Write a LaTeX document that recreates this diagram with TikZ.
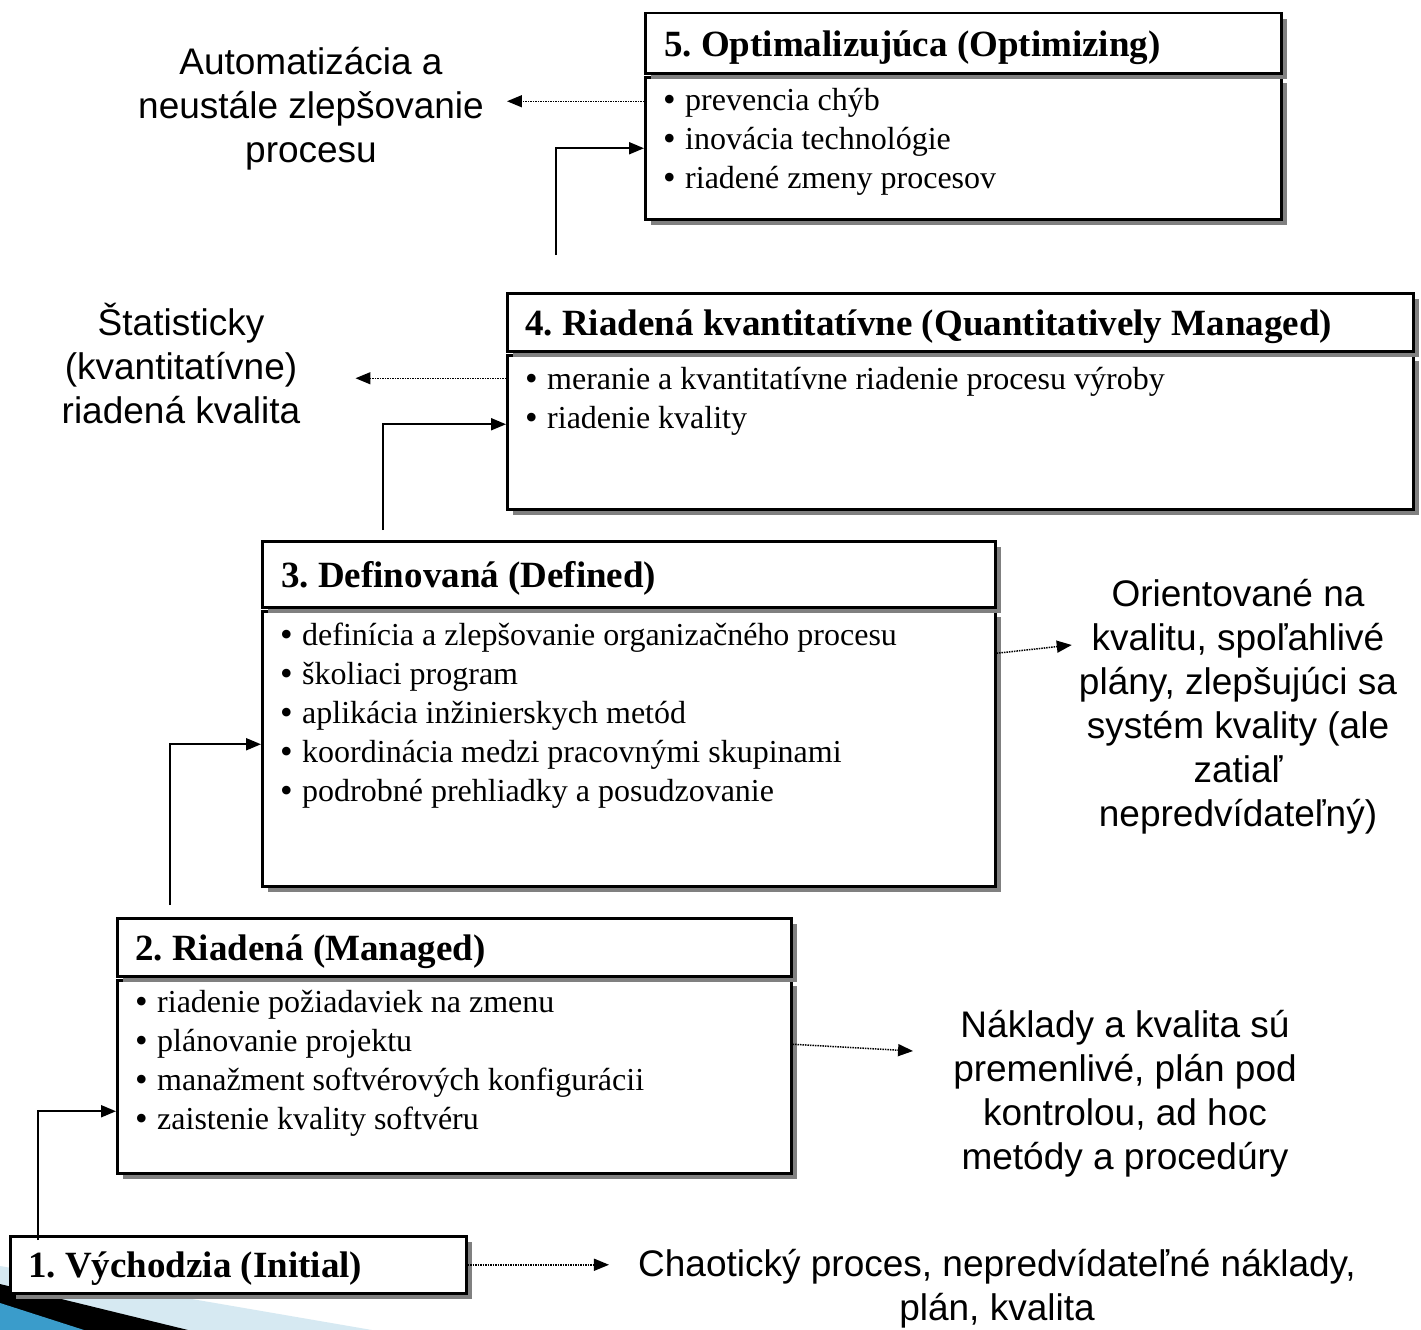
\documentclass[tikz,border=0pt]{standalone}
\usepackage{fontspec}
\setmainfont{Liberation Serif}
\newfontfamily\sansf{Liberation Sans}
\usetikzlibrary{arrows.meta,shadows,calc}
\definecolor{shadowgray}{HTML}{808080}
\definecolor{decolight}{HTML}{D6E9F2}
\definecolor{decoblue}{HTML}{3A9CCB}
\newcommand\bul{\makebox[22pt][l]{\raisebox{-1.3pt}{\fontsize{36}{0}\selectfont•}}}
\begin{document}
\frenchspacing
\begin{tikzpicture}[x=1pt,y=-1pt,
 box/.style={draw=black, line width=2.5pt, fill=white, rectangle, inner sep=0pt, anchor=north west,
   general shadow={fill=shadowgray, shadow xshift=6pt, shadow yshift=-6pt}},
 ttl/.style={anchor=west, inner sep=0pt, font=\fontsize{37}{44}\selectfont\bfseries},
 body/.style={anchor=north west, inner sep=0pt, align=left, font=\fontsize{32}{39}\selectfont},
 side/.style={align=center, inner sep=0pt, font=\sansf\fontsize{37}{44}\selectfont},
 conn/.style={line width=2pt, -{Triangle[length=15pt,width=12pt]}},
 dotconn/.style={line width=1.5pt, densely dotted, -{Triangle[length=15pt,width=12pt]}}
]
\fill[white] (0,0) rectangle (1421,1330);
\useasboundingbox (0,0) rectangle (1421,1330);

% bottom-left template decoration
\fill[decolight] (0,1266) -- (372,1330) -- (0,1330) -- cycle;
\fill[black] (0,1284) -- (188,1330) -- (0,1330) -- cycle;
\fill[decoblue] (0,1303) -- (84,1330) -- (0,1330) -- cycle;

% side texts
\node[side] (A5) at (311,109) {Automatizácia a\\neustále zlepšovanie\\procesu};
\node[side] (S4) at (181,364) {Štatisticky\\(kvantitatívne)\\riadená kvalita};
\node[side] (O3) at (1238,707) {Orientované na\\kvalitu, spoľahlivé\\plány, zlepšujúci sa\\systém kvality (ale\\zatiaľ\\nepredvídateľný)};
\node[side] (N2) at (1125,1094) {Náklady a kvalita sú\\premenlivé, plán pod\\kontrolou, ad hoc\\metódy a procedúry};
\node[side] (C1) at (997,1289) {Chaotický proces, nepredvídateľné náklady,\\plán, kvalita};

% level 5
\node[box, minimum width=636pt, minimum height=142pt] (B5b) at (644,76) {};
\node[box, minimum width=636pt, minimum height=60pt] (B5t) at (644,12) {};
\node[ttl] (T5) at ([xshift=20pt,yshift=-4pt]B5t.west) {5. Optimalizujúca (Optimizing)};
\node[body] (L5) at ([xshift=19pt,yshift=-7pt]B5b.north west) {\strut\bul prevencia chýb\\\strut\bul inovácia technológie\\\strut\bul riadené zmeny procesov};

% level 4
\node[box, minimum width=906pt, minimum height=154pt] (B4b) at (506,354) {};
\node[box, minimum width=906pt, minimum height=58pt] (B4t) at (506,292) {};
\node[ttl] (T4) at ([xshift=19pt,yshift=-4pt]B4t.west) {4. Riadená kvantitatívne (Quantitatively Managed)};
\node[body] (L4) at ([xshift=19pt,yshift=-8pt]B4b.north west) {\strut\bul meranie a kvantitatívne riadenie procesu výroby\\\strut\bul riadenie kvality};

% level 3
\node[box, minimum width=733pt, minimum height=275pt] (B3b) at (261,610) {};
\node[box, minimum width=733pt, minimum height=66pt] (B3t) at (261,540) {};
\node[ttl] (T3) at ([xshift=20pt,yshift=-4pt]B3t.west) {3. Definovaná (Defined)};
\node[body] (L3) at ([xshift=19pt,yshift=-8pt]B3b.north west) {\strut\bul definícia a zlepšovanie organizačného procesu\\\strut\bul školiaci program\\\strut\bul aplikácia inžinierskych metód\\\strut\bul koordinácia medzi pracovnými skupinami\\\strut\bul podrobné prehliadky a posudzovanie};

% level 2
\node[box, minimum width=674pt, minimum height=193pt] (B2b) at (116,979) {};
\node[box, minimum width=674pt, minimum height=58pt] (B2t) at (116,917) {};
\node[ttl] (T2) at ([xshift=19pt,yshift=-4pt]B2t.west) {2. Riadená (Managed)};
\node[body] (L2) at ([xshift=19pt,yshift=-6pt]B2b.north west) {\strut\bul riadenie požiadaviek na zmenu\\\strut\bul plánovanie projektu\\\strut\bul manažment softvérových konfigurácii\\\strut\bul zaistenie kvality softvéru};

% level 1
\node[box, minimum width=456pt, minimum height=57pt] (B1) at (9,1235) {};
\node[ttl] (T1) at ([xshift=19pt,yshift=-4pt]B1.west) {1. Východzia (Initial)};

% solid connectors (level to level)
\coordinate (s4) at ([xshift=50pt,yshift=37pt]B4t.north west);
\draw[conn] (s4) |- (B5b.west);
\coordinate (s3) at ([xshift=122pt,yshift=10pt]B3t.north west);
\draw[conn] (s3) |- ([yshift=8pt]B4b.west);
\coordinate (s2) at ([xshift=54pt,yshift=12pt]B2t.north west);
\draw[conn] (s2) |- ([yshift=4.5pt]B3b.west);
\coordinate (s1) at ([xshift=29pt,yshift=-5pt]B1.north west);
\draw[conn] (s1) |- ([yshift=-34.5pt]B2b.west);

% dotted connectors (level to description)
\coordinate (d5) at ([yshift=47pt]B5b.west);
\coordinate (t5) at ([xshift=23pt]A5.east);
\draw[dotconn] (d5) -- (t5 |- d5);
\coordinate (d4) at ([yshift=54pt]B4b.west);
\coordinate (t4) at ([xshift=55pt]S4.east);
\draw[dotconn] (d4) -- (t4 |- d4);
\draw[dotconn] ([yshift=95.5pt]B3b.east) -- ([xshift=-7pt,yshift=62pt]O3.west);
\draw[dotconn] ([yshift=32.5pt]B2b.east) -- ([xshift=-40pt,yshift=43pt]N2.west);
\coordinate (t1) at ([xshift=-29pt]C1.west);
\draw[dotconn] (B1.east) -- (t1 |- B1.east);
\end{tikzpicture}
\end{document}
